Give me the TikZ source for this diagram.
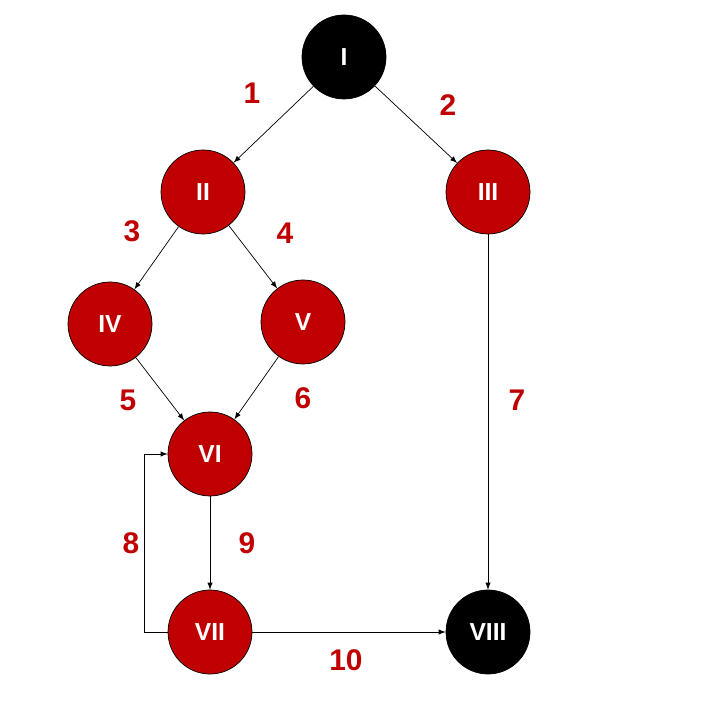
\documentclass[tikz,border=0pt]{standalone}
\usepackage{fontspec}
\setmainfont{Liberation Sans}
\usepackage{xcolor}
\usetikzlibrary{arrows,shapes,positioning}
\definecolor{darkred}{HTML}{C00000}
\tikzset{
  state/.style={draw=black, circle, fill=darkred, text=white, minimum size=1.68cm, inner sep=0pt, font=\fontsize{14}{16}\selectfont\bfseries},
  term/.style={state, fill=black},
  num/.style={text=darkred, font=\fontsize{17}{19}\selectfont\bfseries},
}
\begin{document}
\begin{tikzpicture}
        \useasboundingbox (0,0) rectangle (14.4,14.4);
        \node[term] (S1) at (6.88,13.26) {I};
        \node[state] (S2) at (4.06,10.56) {II};
        \node[state] (S3) at (9.76,10.56) {III};
        \node[state] (S4) at (2.2,7.92) {IV};
        \node[state] (S5) at (6.06,7.96) {V};
        \node[state] (S6) at (4.2,5.32) {VI};
        \node[state] (S7) at (4.2,1.76) {VII};
        \node[term] (S8) at (9.76,1.76) {VIII};

        \node[num] (n1) at (5.04,12.54) {1};
        \node[num] (n2) at (8.96,12.3) {2};
        \node[num] (n3) at (2.64,9.78) {3};
        \node[num] (n4) at (5.7,9.74) {4};
        \node[num] (n5) at (2.56,6.4) {5};
        \node[num] (n6) at (6.06,6.44) {6};
        \node[num] (n7) at (10.34,6.4) {7};
        \node[num] (n8) at (2.62,3.54) {8};
        \node[num] (n9) at (4.94,3.54) {9};
        \node[num] (n10) at (6.92,1.2) {10};

        \draw[->,>=latex] (S1) to (S2);
        \draw[->,>=latex] (S1) to (S3);
        \draw[->,>=latex] (S2) to (S4);
        \draw[->,>=latex] (S2) to (S5);
        \draw[->,>=latex] (S4) to (S6);
        \draw[->,>=latex] (S5) to (S6);
        \draw[->,>=latex] (S3) to (S8);
        \draw[->,>=latex] (S6) to (S7);
        \draw[->,>=latex] (S7) to (S8);
        \draw[->,>=latex] (S7.west) -- ++(-0.46,0) |- (S6.west);
    \end{tikzpicture}
\end{document}
